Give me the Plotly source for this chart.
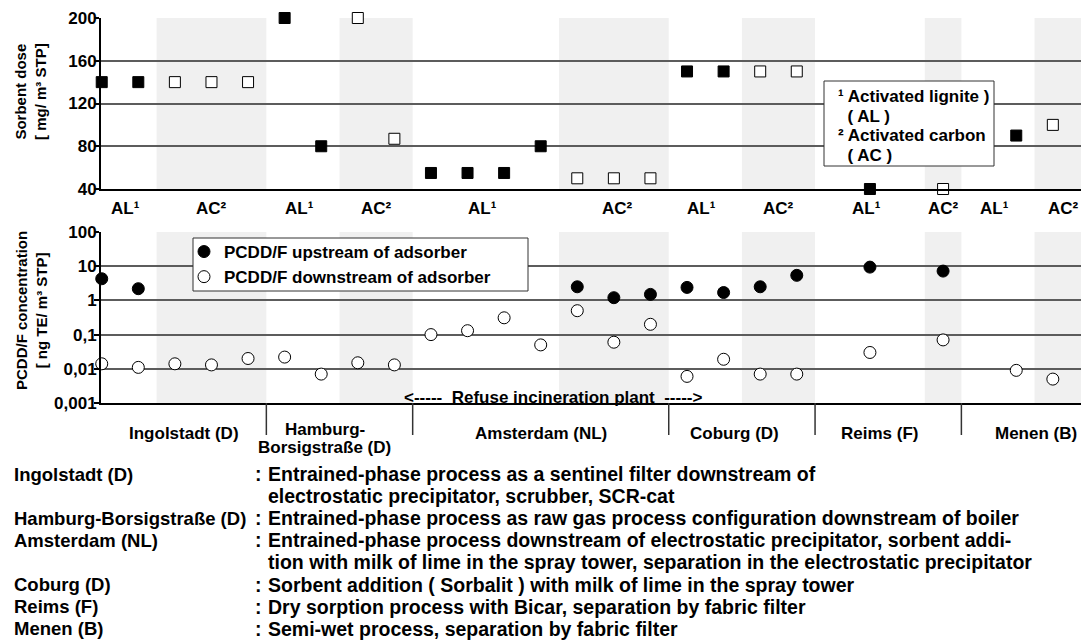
import plotly.graph_objects as go

# ---- data -------------------------------------------------------------
# Test-run positions along the x axis (one slot per measurement campaign)
al_runs = [0, 1, 5, 6, 9, 10, 11, 12, 16, 17, 21, 25]
al_dose = [140, 140, 200, 80, 55, 55, 55, 80, 150, 150, 40, 90]          # activated lignite, mg/m3 STP
ac_runs = [2, 3, 4, 7, 8, 13, 14, 15, 18, 19, 23, 26]
ac_dose = [140, 140, 140, 200, 87, 50, 50, 50, 150, 150, 40, 100]        # activated carbon, mg/m3 STP

up_runs = [0, 1, 13, 14, 15, 16, 17, 18, 19, 21, 23]
up_conc = [4.3, 2.2, 2.5, 1.2, 1.5, 2.4, 1.7, 2.5, 5.4, 9.4, 7.2]        # ng TE/m3 STP
down_runs = list(range(20)) + [21, 23, 25, 26]
down_conc = [0.014, 0.011, 0.014, 0.013, 0.02, 0.022, 0.007, 0.015, 0.013, 0.1,
             0.13, 0.31, 0.05, 0.5, 0.06, 0.2, 0.006, 0.019, 0.007, 0.007,
             0.03, 0.07, 0.009, 0.005]

# sorbent sections (AC sections are shaded)
ac_sections = [(1.5, 4.5), (6.5, 8.5), (12.5, 15.5), (17.5, 19.5), (22.5, 23.5), (25.5, 26.8)]
sorbent_labels = ["AL¹", "AC²", "AL¹", "AC²", "AL¹", "AC²", "AL¹", "AC²", "AL¹", "AC²", "AL¹", "AC²"]
sorbent_label_x = [0.65, 3.0, 5.4, 7.5, 10.4, 14.1, 16.4, 18.5, 20.9, 23.0, 24.4, 26.3]

plants = [["Ingolstadt (D)"], ["Hamburg-", "Borsigstraße (D)"], ["Amsterdam (NL)"],
          ["Coburg (D)"], ["Reims (F)"], ["Menen (B)"]]
plant_label_x = [2.25, 6.1, 12.0, 17.3, 21.25, 25.55]
plant_bounds = [4.5, 8.5, 15.5, 19.5, 23.5]

dose_ticks = [40, 80, 120, 160, 200]
conc_ticks = [0.001, 0.01, 0.1, 1, 10, 100]
conc_ticktext = ["0,001", "0,01", "0,1", "1", "10", "100"]

notes = [
    ("Ingolstadt (D)", ":", "Entrained-phase process as a sentinel filter downstream of"),
    ("", "", "electrostatic precipitator, scrubber, SCR-cat"),
    ("Hamburg-Borsigstraße (D)", ":", "Entrained-phase process as raw gas process configuration downstream of boiler"),
    ("Amsterdam (NL)", ":", "Entrained-phase process downstream of electrostatic precipitator, sorbent addi-"),
    ("", "", "tion with milk of lime in the spray tower, separation in the electrostatic precipitator"),
    ("Coburg (D)", ":", "Sorbent addition ( Sorbalit ) with milk of lime in the spray tower"),
    ("Reims (F)", ":", "Dry sorption process with Bicar, separation by fabric filter"),
    ("Menen (B)", ":", "Semi-wet process, separation by fabric filter"),
]

# ---- layout helpers (pixel -> paper) -------------------------------------
W, H = 1081, 643
L, R, T, B = 101, 0, 18, 240
PW, PH = W - L - R, H - T - B


def px_x(p):
    return (p - L) / PW


def px_y(p):
    return (H - B - p) / PH


FONT = "Liberation Sans, Arial, sans-serif"
GRID = "#5c5c5c"
BAND = "#f0f0f0"
XR = [-0.02, 26.77]

fig = go.Figure()

sq = dict(symbol="square", size=11)
fig.add_trace(go.Scatter(x=al_runs, y=al_dose, mode="markers", xaxis="x", yaxis="y",
                         marker=dict(**sq, color="black", line=dict(color="black", width=1)),
                         showlegend=False, cliponaxis=False, name="AL"))
fig.add_trace(go.Scatter(x=ac_runs, y=ac_dose, mode="markers", xaxis="x", yaxis="y",
                         marker=dict(**sq, color="white", line=dict(color="black", width=1)),
                         showlegend=False, cliponaxis=False, name="AC"))

circ = dict(symbol="circle", size=12)
fig.add_trace(go.Scatter(x=up_runs, y=up_conc, mode="markers", xaxis="x2", yaxis="y2",
                         marker=dict(**circ, color="black", line=dict(color="black", width=1)),
                         cliponaxis=False, name="PCDD/F upstream of adsorber"))
fig.add_trace(go.Scatter(x=down_runs, y=down_conc, mode="markers", xaxis="x2", yaxis="y2",
                         marker=dict(**circ, color="white", line=dict(color="black", width=1)),
                         cliponaxis=False, name="PCDD/F downstream of adsorber"))

shapes = []
for x0, x1 in ac_sections:
    for xr, yr in (("x", "y domain"), ("x2", "y2 domain")):
        shapes.append(dict(type="rect", xref=xr, yref=yr,
                           x0=x0, x1=x1, y0=0, y1=1, fillcolor=BAND, line=dict(width=0),
                           layer="below"))
for b in plant_bounds:
    shapes.append(dict(type="line", xref="x2", yref="paper", x0=b, x1=b,
                       y0=0, y1=px_y(435), line=dict(color="#333333", width=1.5)))
# note box in the dose panel
shapes.append(dict(type="rect", xref="paper", yref="paper",
                   x0=px_x(824), x1=px_x(994), y0=px_y(166), y1=px_y(81),
                   fillcolor="white", line=dict(color="#333333", width=1), layer="above"))
# frame behind the legend of the concentration panel
shapes.append(dict(type="rect", xref="paper", yref="paper",
                   x0=px_x(193), x1=px_x(528), y0=px_y(291), y1=px_y(238),
                   fillcolor="white", line=dict(color="#333333", width=1), layer="above"))

ann = []
f17 = dict(family=FONT, size=17, color="black", weight="bold")
for t, x in zip(sorbent_labels, sorbent_label_x):
    ann.append(dict(text=t, x=x, xref="x", y=px_y(208), yref="paper", showarrow=False,
                    font=f17, xanchor="center", yanchor="middle"))
for lines, x in zip(plants, plant_label_x):
    ys = [433] if len(lines) == 1 else [430, 447]
    for t, yy in zip(lines, ys):
        ann.append(dict(text=t, x=x, xref="x2", y=px_y(yy), yref="paper", showarrow=False,
                        font=f17, xanchor="center", yanchor="middle"))

box_lines = ["¹ Activated lignite )", "\u00a0\u00a0( AL )", "² Activated carbon", "\u00a0\u00a0( AC )"]
for i, t in enumerate(box_lines):
    ann.append(dict(text=t, x=px_x(836), xref="paper", y=px_y(97 + 19.4 * i), yref="paper",
                    showarrow=False, font=f17, xanchor="left", yanchor="middle"))

ann.append(dict(text="<-----\u00a0\u00a0Refuse incineration plant\u00a0\u00a0----->", x=12.35, xref="x2",
                y=px_y(397), yref="paper", showarrow=False, font=f17,
                xanchor="center", yanchor="middle"))

f15 = dict(family=FONT, size=15, color="black", weight="bold")
ann.append(dict(text="Sorbent dose<br>[ mg/ m³ STP]", x=px_x(31), xref="paper", y=px_y(92),
                yref="paper", showarrow=False, font=f15, textangle=-90,
                xanchor="center", yanchor="middle"))
ann.append(dict(text="PCDD/F concentration<br>[ ng TE/ m³ STP]", x=px_x(31), xref="paper",
                y=px_y(311), yref="paper", showarrow=False, font=f15, textangle=-90,
                xanchor="center", yanchor="middle"))

f_name = dict(family=FONT, size=18.5, color="black", weight="bold")
f_desc = dict(family=FONT, size=19.5, color="black", weight="bold")
for i, (name, colon, desc) in enumerate(notes):
    yy = px_y(474 + 22.1 * i)
    if name:
        ann.append(dict(text=name, x=px_x(12), xref="paper", y=yy, yref="paper",
                        showarrow=False, font=f_name, xanchor="left", yanchor="middle"))
    if colon:
        ann.append(dict(text=colon, x=px_x(258), xref="paper", y=yy, yref="paper",
                        showarrow=False, font=f_desc, xanchor="center", yanchor="middle"))
    ann.append(dict(text=desc, x=px_x(266), xref="paper", y=yy, yref="paper",
                    showarrow=False, font=f_desc, xanchor="left", yanchor="middle"))

axis_common = dict(showline=True, linecolor="black", linewidth=2, zeroline=False)
ytick_common = dict(showgrid=True, gridcolor=GRID, gridwidth=1.5, ticks="outside", ticklen=5,
                    tickwidth=1.5, tickcolor="black", tickfont=f17, ticklabelstandoff=-6)

fig.update_layout(
    width=W, height=H,
    margin=dict(l=L, r=R, t=T, b=B, pad=0),
    paper_bgcolor="white", plot_bgcolor="white",
    font=dict(family=FONT, size=17, color="black", weight="bold"),
    xaxis=dict(domain=[0, 1], anchor="y", range=XR, showgrid=False, showticklabels=False,
               ticks="", **axis_common),
    yaxis=dict(domain=[px_y(189), 1], anchor="x", range=[40, 200], tickvals=dose_ticks,
               **ytick_common, **axis_common),
    xaxis2=dict(domain=[0, 1], anchor="y2", range=XR, showgrid=False, showticklabels=False,
                ticks="", **axis_common),
    yaxis2=dict(domain=[0, px_y(232)], anchor="x2", type="log", range=[-3, 2],
                tickvals=conc_ticks, ticktext=conc_ticktext, **ytick_common, **axis_common),
    legend=dict(x=px_x(184), y=px_y(234), xanchor="left", yanchor="top",
                bgcolor="rgba(0,0,0,0)", borderwidth=0,
                font=f17, itemwidth=30, tracegroupgap=0),
    shapes=shapes,
    annotations=ann,
)

fig.write_html("out.html")
